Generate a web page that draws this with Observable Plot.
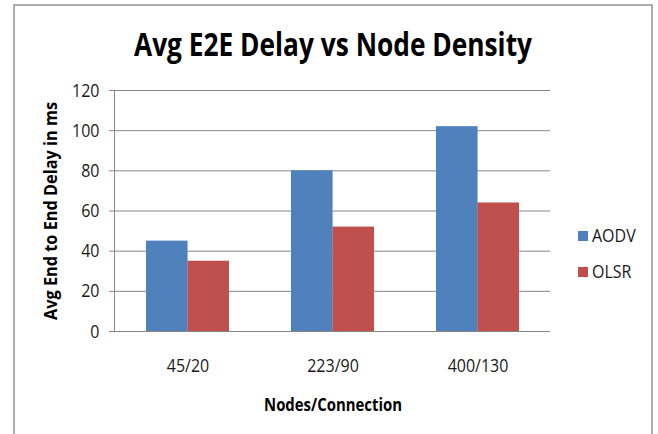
<!DOCTYPE html>
<html>
<head>
<meta charset="utf-8">
<script src="https://cdn.jsdelivr.net/npm/d3@7"></script>
<script src="https://cdn.jsdelivr.net/npm/@observablehq/plot@0.6"></script>
<style>
  html, body { margin: 0; padding: 0; background: #fff; }
  #wrap { position: relative; width: 658px; height: 434px; overflow: hidden; background: #fff; }
  #wrap > svg { position: absolute; left: 0; top: 0; }
  .ov { font-family: "Open Sans", "DejaVu Sans Condensed", sans-serif; }
</style>
</head>
<body>
<div id="wrap"></div>
<script>
const categories = ["45/20", "223/90", "400/130"];
const series = ["AODV", "OLSR"];
const aodv = [45, 80, 102];
const olsr = [35, 52, 64];
const yTicks = [0, 20, 40, 60, 80, 100, 120];
const colors = ["#4F81BD", "#C0504D"];
const title = "Avg E2E Delay vs Node Density";
const yLabel = "Avg End to End Delay in ms";
const xLabel = "Nodes/Connection";

const W = 658, H = 434;
const mL = 114, mR = 108, mT = 90, mB = 103;
const pad = 0.43;
const stretch = 1.15;

const data = categories.flatMap((c, i) => [
  {cat: c, series: series[0], value: aodv[i]},
  {cat: c, series: series[1], value: olsr[i]}
]);

const step = (W - mL - mR) / categories.length;
const half = step * (1 - pad) / 2;
const font = "'Open Sans', 'DejaVu Sans Condensed', sans-serif";

const chart = Plot.plot({
  width: W, height: H,
  marginLeft: mL, marginRight: mR, marginTop: mT, marginBottom: mB,
  style: {fontFamily: font, fontSize: "16px", color: "#1a1a1a", background: "transparent"},
  x: {domain: categories, paddingInner: pad, paddingOuter: pad / 2},
  y: {domain: [0, 120]},
  color: {domain: series, range: colors},
  marks: [
    Plot.gridY(yTicks, {stroke: "#868686", strokeOpacity: 1}),
    Plot.barY(data.filter(d => d.series === series[0]), {x: "cat", y: "value", fill: "series", insetRight: half}),
    Plot.barY(data.filter(d => d.series === series[1]), {x: "cat", y: "value", fill: "series", insetLeft: half}),
    Plot.ruleY([0], {stroke: "#868686"}),
    Plot.frame({anchor: "left", stroke: "#868686"}),
    Plot.axisY(yTicks, {tickSize: 5, tickPadding: 10, stroke: "#868686", label: null, fill: "#1a1a1a", fontSize: 16}),
    Plot.axisX({tickSize: 0, tickPadding: 28, label: null, fill: "#1a1a1a", fontSize: 16})
  ]
});

const wrap = document.getElementById("wrap");
wrap.appendChild(chart);

// stretch tick labels vertically about their own centre (the reference text is tall and narrow)
d3.select(chart).selectAll('g[aria-label$="tick label"] text').each(function () {
  const b = this.getBBox();
  const cy = b.y + b.height / 2;
  const t = this.getAttribute("transform") || "";
  this.setAttribute("transform", `${t} translate(0,${cy}) scale(1,${stretch}) translate(0,${-cy})`);
});

const ns = "http://www.w3.org/2000/svg";
const ov = document.createElementNS(ns, "svg");
ov.setAttribute("width", W);
ov.setAttribute("height", H);
ov.setAttribute("class", "ov");
ov.style.pointerEvents = "none";

function el(tag, attrs, text, parent) {
  const e = document.createElementNS(ns, tag);
  for (const k in attrs) e.setAttribute(k, attrs[k]);
  if (text != null) e.textContent = text;
  (parent || ov).appendChild(e);
  return e;
}
function label(x, y, rot, sy, attrs, text) {
  const g = el("g", {transform: `translate(${x},${y}) rotate(${rot}) scale(1,${sy})`});
  return el("text", Object.assign({x: 0, y: 0}, attrs), text, g);
}

// outer chart border
el("rect", {x: 14, y: 5, width: 638, height: 460, fill: "none", stroke: "#9a9a9a", "stroke-width": 1.6});

// title
label(333, 55.7, 0, 1.18, {"text-anchor": "middle", "font-weight": "bold", "font-size": 27,
  textLength: 398, lengthAdjust: "spacingAndGlyphs", fill: "#000"}, title);

// y axis title
label(57, 211, -90, 1.12, {"text-anchor": "middle", "font-weight": "bold", "font-size": 16.5,
  textLength: 218, lengthAdjust: "spacingAndGlyphs", fill: "#000"}, yLabel);

// x axis title
label(333, 411, 0, 1.15, {"text-anchor": "middle", "font-weight": "bold", "font-size": 16,
  textLength: 138, lengthAdjust: "spacingAndGlyphs", fill: "#000"}, xLabel);

// legend
const legendY = [231, 267];
series.forEach((s, i) => {
  el("rect", {x: 578, y: legendY[i], width: 10, height: 10, fill: colors[i]});
  label(592, legendY[i] + 10.6, 0, stretch, {"font-size": 16, fill: "#1a1a1a"}, s);
});

wrap.appendChild(ov);
</script>
</body>
</html>
